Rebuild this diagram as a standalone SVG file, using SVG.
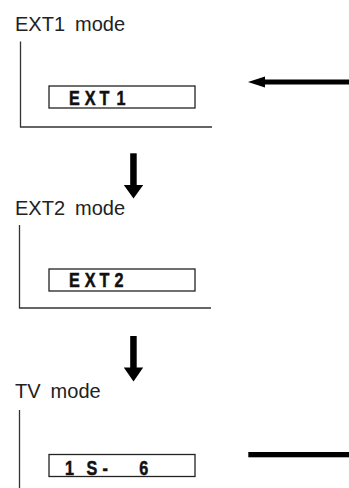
<svg xmlns="http://www.w3.org/2000/svg" width="349" height="488" viewBox="0 0 349 488">
<style>
.lbl{font-family:"Liberation Sans",Arial,sans-serif;font-size:20px;fill:#222;word-spacing:4.5px}
.disp{font-family:"Liberation Sans",Arial,sans-serif;font-size:19.5px;font-weight:bold;fill:#111;stroke:#111;stroke-width:0.5}
.frame{fill:none;stroke:#333;stroke-width:1.3}
.box{fill:#fff;stroke:#222;stroke-width:1.3}
.arr{fill:#000}
</style>
<rect width="349" height="488" fill="#fff"/>
<g id="ext1">
<text class="lbl" x="15" y="30.5">EXT1 mode</text>
<polyline class="frame" points="20.5,41.5 20.5,127 212,127"/>
<rect class="box" x="49" y="86" width="146" height="22"/>
<text class="disp" transform="scale(0.83,1)" x="83 102.2 120 140.5" y="105">EXT1</text>
</g>
<g id="ext2">
<text class="lbl" x="15" y="215">EXT2 mode</text>
<polyline class="frame" points="19.5,225 19.5,308 211,308"/>
<rect class="box" x="49" y="269" width="146" height="22"/>
<text class="disp" transform="scale(0.83,1)" x="83 102.2 120 138" y="287.5">EXT2</text>
</g>
<g id="tv">
<text class="lbl" x="15" y="398">TV mode</text>
<line class="frame" x1="19.5" y1="410" x2="19.5" y2="488"/>
<rect class="box" x="49" y="454.5" width="146" height="22"/>
<text class="disp" transform="scale(0.83,1)" x="78.3 94 104.3 123.4 144 167.8" y="475">1 S- 6</text>
</g>
<g id="connectors">
<rect class="arr" x="262" y="79.5" width="87" height="5"/>
<polygon class="arr" points="248,82 265,76.5 265,87.5"/>
<rect class="arr" x="130.2" y="153.3" width="6.5" height="32"/>
<polygon class="arr" points="123.8,185 143.2,185 133.5,198.5"/>
<rect class="arr" x="130.2" y="336" width="6.5" height="32"/>
<polygon class="arr" points="123.8,367.5 143.2,367.5 133.5,381.5"/>
<rect class="arr" x="248.3" y="452" width="100.7" height="5.3"/>
</g>
</svg>
